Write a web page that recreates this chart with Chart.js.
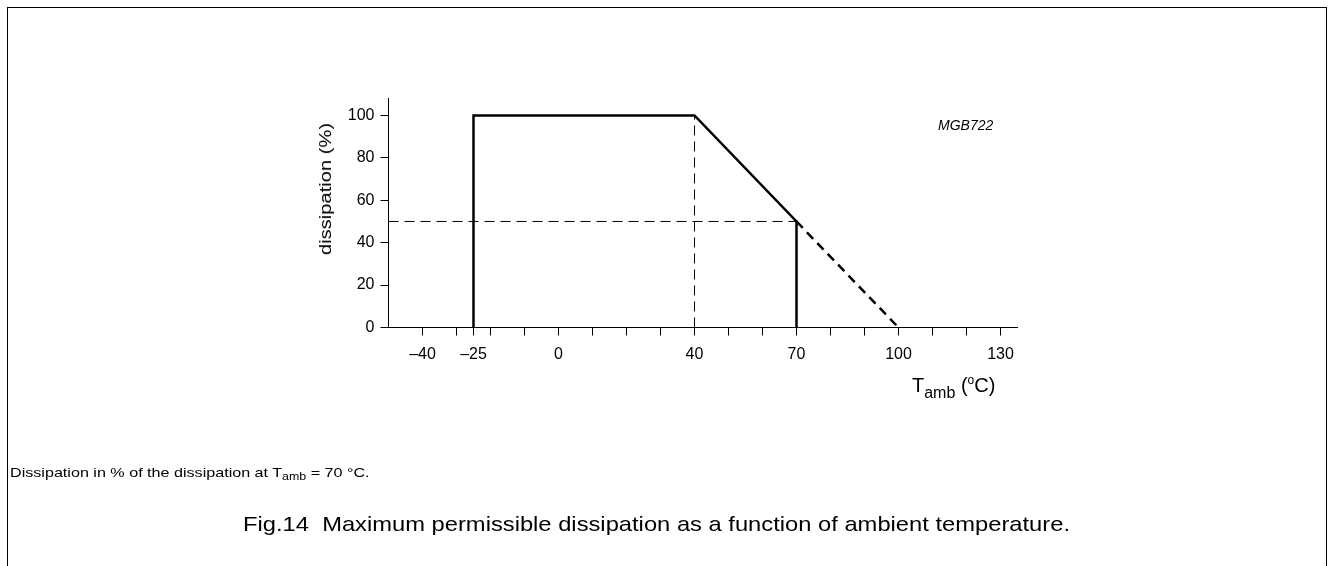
<!DOCTYPE html>
<html>
<head>
    <title>Maximum permissible dissipation</title>
    <script src="https://cdn.jsdelivr.net/npm/chart.js"></script>
    <style>
        body {
            margin: 0;
            width: 1330px;
            height: 566px;
            overflow: hidden;
            background: #fff;
            font-family: "Liberation Sans", Arial, sans-serif;
            color: #000;
        }
        #frame {
            position: absolute;
            left: 7px;
            top: 7px;
            width: 1318px;
            height: 600px;
            border-left: 1px solid #000;
            border-top: 1px solid #000;
            border-right: 1px solid #000;
        }
        #chart-container {
            position: absolute;
            left: 0;
            top: 0;
            width: 1330px;
            height: 566px;
        }
        .txt { position: absolute; white-space: nowrap; line-height: 1; }
        #ytitle {
            left: 326px;
            top: 189px;
            font-size: 16px;
            transform: translate(-50%, -50%) rotate(-90deg) scaleX(1.26);
        }
        #xtitle { left: 912px; top: 374px; font-size: 20px; }
        #xtitle sub { font-size: 16px; vertical-align: -6px; }
        #xtitle sup { font-size: 12px; vertical-align: 8px; }
        #code { left: 938px; top: 118px; font-size: 14px; font-style: italic; }
        #note { left: 10px; top: 466px; font-size: 13px; transform-origin: 0 0; transform: scaleX(1.24); }
        #note sub { font-size: 10px; vertical-align: -3px; }
        #caption { left: 243px; top: 513px; font-size: 21px; transform-origin: 0 0; transform: scaleX(1.13); }
    </style>
</head>
<body>
    <div id="frame"></div>
    <div id="chart-container">
        <canvas id="dissChart"></canvas>
    </div>
    <div class="txt" id="ytitle">dissipation (%)</div>
    <div class="txt" id="xtitle">T<sub>amb</sub> (<sup>o</sup>C)</div>
    <div class="txt" id="code">MGB722</div>
    <div class="txt" id="note">Dissipation in % of the dissipation at T<sub>amb</sub> = 70 &deg;C.</div>
    <div class="txt" id="caption">Fig.14&nbsp; Maximum permissible dissipation as a function of ambient temperature.</div>
    <script>
        // derating curve (solid)
        const curveTemp = [-25, -25, 40, 70, 70];
        const curveDiss = [0, 100, 100, 50, 0];
        // extrapolated part (thick dashed)
        const extTemp = [70, 100];
        const extDiss = [50, 0];
        // thin dashed guide lines
        const guideHTemp = [-50, 70];
        const guideHDiss = [50, 50];
        const guideVTemp = [40, 40];
        const guideVDiss = [0, 100];
        // axes
        const xTicks = [-40, -30, -25, -20, -10, 0, 10, 20, 30, 40, 50, 60, 70, 80, 90, 100, 110, 120, 130];
        const xLabels = [-40, -25, 0, 40, 70, 100, 130];
        const yTicks = [0, 20, 40, 60, 80, 100];

        const toPoints = (xs, ys) => xs.map((x, i) => ({ x: x, y: ys[i] }));

        function lineSet(xs, ys, width, dash) {
            return {
                data: toPoints(xs, ys),
                showLine: true,
                borderColor: '#000',
                borderWidth: width,
                borderDash: dash,
                pointRadius: 0,
                fill: false,
                tension: 0
            };
        }

        const tickFont = { family: '"Liberation Sans", Arial, sans-serif', size: 16 };

        function createChart() {
            const ctx = document.getElementById('dissChart').getContext('2d');
            return new Chart(ctx, {
                type: 'scatter',
                data: {
                    datasets: [
                        lineSet(guideHTemp, guideHDiss, 1, [10, 6]),
                        lineSet(guideVTemp, guideVDiss, 1, [10, 6]),
                        lineSet(extTemp, extDiss, 2.5, [9, 6]),
                        lineSet(curveTemp, curveDiss, 2.5, [])
                    ]
                },
                options: {
                    responsive: true,
                    maintainAspectRatio: false,
                    animation: false,
                    events: [],
                    layout: { padding: { left: 0, top: 98.5, right: 312.5, bottom: 0 } },
                    plugins: { legend: { display: false }, tooltip: { enabled: false } },
                    scales: {
                        x: {
                            type: 'linear',
                            min: -50,
                            max: 135,
                            afterBuildTicks: (scale) => { scale.ticks = xTicks.map(v => ({ value: v })); },
                            afterFit: (scale) => { scale.height = 238.5; },
                            ticks: {
                                color: '#000',
                                font: tickFont,
                                padding: 9,
                                maxRotation: 0,
                                autoSkip: false,
                                callback: (v) => xLabels.includes(v) ? (v < 0 ? '\u2013' + Math.abs(v) : String(v)) : ''
                            },
                            grid: { drawOnChartArea: false, drawTicks: true, tickLength: 8, color: '#000', lineWidth: 1 },
                            border: { color: '#000', width: 1 }
                        },
                        y: {
                            type: 'linear',
                            min: 0,
                            max: 108,
                            afterBuildTicks: (scale) => { scale.ticks = yTicks.map(v => ({ value: v })); },
                            afterFit: (scale) => { scale.width = 388.5; },
                            ticks: { color: '#000', font: tickFont, padding: 6 },
                            grid: { drawOnChartArea: false, drawTicks: true, tickLength: 8, color: '#000', lineWidth: 1 },
                            border: { color: '#000', width: 1 }
                        }
                    }
                }
            });
        }

        createChart();
    </script>
</body>
</html>
